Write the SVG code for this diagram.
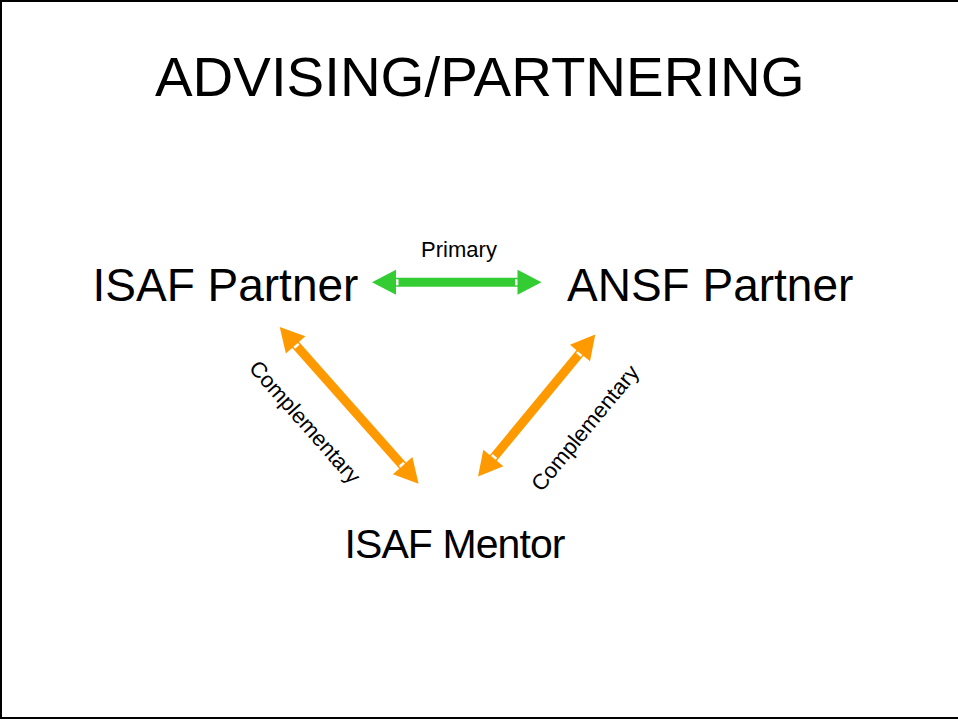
<svg xmlns="http://www.w3.org/2000/svg" width="958" height="720" viewBox="0 0 958 720">
  <style>
    text { font-family: "Liberation Sans", Arial, sans-serif; fill: #000; }
    .title { font-size: 56.4px; }
    .node { font-size: 46px; }
    .mentor { font-size: 41px; }
    .lbl { font-size: 22px; }
    .clbl { font-size: 22px; }
    .green { stroke: #33CC33; stroke-width: 9; fill: none; }
    .orange { stroke: #FF9900; stroke-width: 9; fill: none; }
  </style>
  <defs>
    <marker id="headGreen" viewBox="-3 -13 27 26" refX="0" refY="0" markerUnits="userSpaceOnUse" markerWidth="27" markerHeight="26" orient="auto-start-reverse" overflow="visible">
      <path d="M-0.5,-12.5 L23.5,0 L-0.5,12.5 z" fill="#33CC33"/>
      <rect x="-3" y="-3" width="2.5" height="6" fill="#fff"/>
    </marker>
    <marker id="headOrange" viewBox="-3 -13 27 26" refX="0" refY="0" markerUnits="userSpaceOnUse" markerWidth="27" markerHeight="26" orient="auto-start-reverse" overflow="visible">
      <path d="M-0.5,-13 L23.5,0 L-0.5,13 z" fill="#FF9900"/>
      <rect x="-3" y="-3" width="2.5" height="6" fill="#fff"/>
    </marker>
  </defs>

  <!-- page background and frame -->
  <rect x="0" y="0" width="958" height="720" fill="#fff"/>
  <path d="M958,1 H1 V718 H958" fill="none" stroke="#000" stroke-width="2"/>

  <text class="title" x="155" y="96">ADVISING/PARTNERING</text>

  <g id="isaf-partner">
    <text class="node" x="92.5" y="301">ISAF Partner</text>
  </g>
  <g id="ansf-partner">
    <text class="node" x="567" y="301">ANSF Partner</text>
  </g>
  <g id="isaf-mentor">
    <text class="mentor" x="344.5" y="558" textLength="221" lengthAdjust="spacing">ISAF Mentor</text>
  </g>

  <g id="connectors">
    <line class="green" x1="395.5" y1="282.3" x2="518" y2="282.3" marker-start="url(#headGreen)" marker-end="url(#headGreen)"/>
    <line class="orange" x1="295.3" y1="344.5" x2="403" y2="466.1" marker-start="url(#headOrange)" marker-end="url(#headOrange)"/>
    <line class="orange" x1="580.3" y1="352.7" x2="493" y2="458.3" marker-start="url(#headOrange)" marker-end="url(#headOrange)"/>
    <text class="lbl" x="459" y="256.5" text-anchor="middle">Primary</text>
    <text class="clbl" text-anchor="middle" transform="translate(305,422) rotate(48.5) translate(0,7.5)">Complementary</text>
    <text class="clbl" text-anchor="middle" transform="translate(585,428) rotate(-50.5) translate(0,7.5)">Complementary</text>
  </g>
</svg>
